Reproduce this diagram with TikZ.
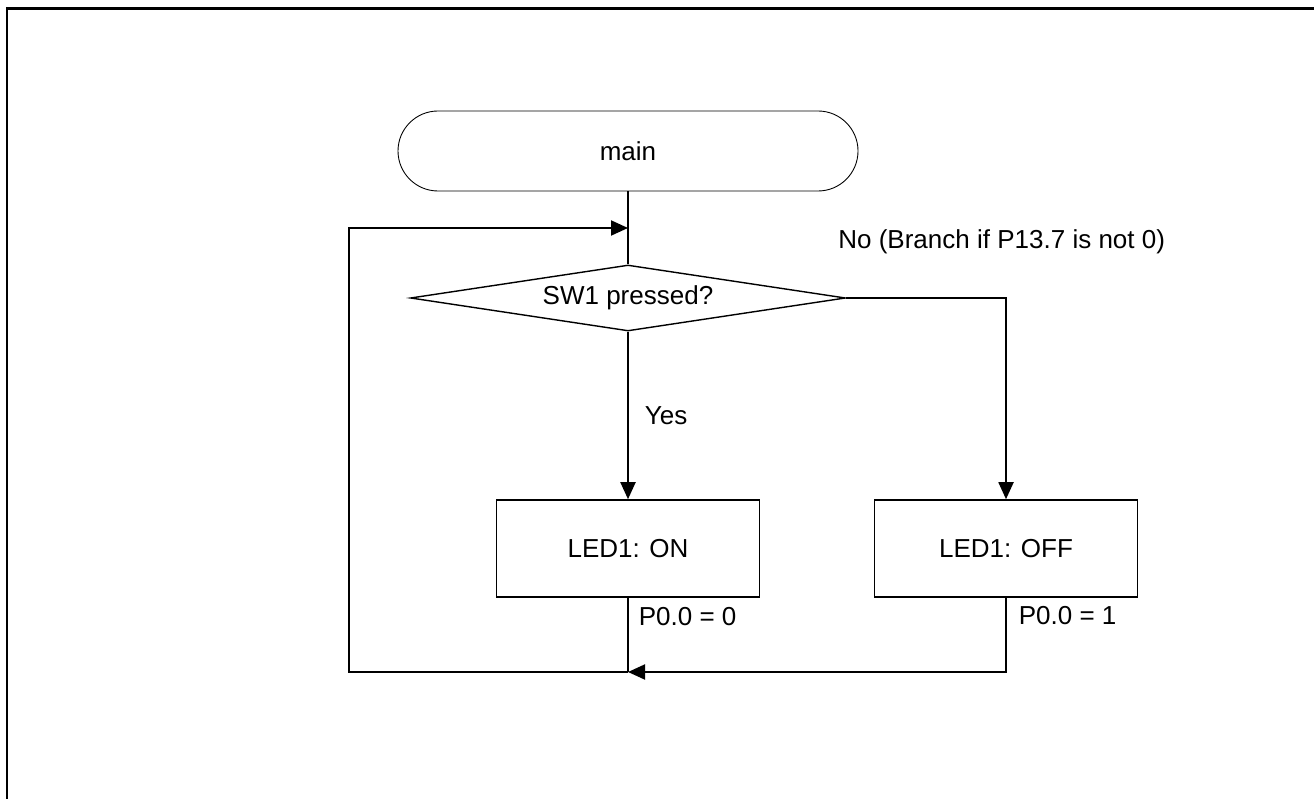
\documentclass[tikz,border=0pt]{standalone}
\usepackage{fontspec}
\setmainfont{Liberation Sans}
\usetikzlibrary{arrows.meta, positioning, shapes.geometric}

\begin{document}
\begin{tikzpicture}[every node/.style={font=\fontsize{14.8}{17}\selectfont},
    line/.style={line width=1.1pt},
    arrow/.style={line width=1.1pt, -{Triangle[length=0.34cm, width=0.3cm]}},
    terminal/.style={draw, line width=0.5pt, rectangle, rounded corners=0.8cm, minimum width=9.2cm, minimum height=1.6cm},
    decision/.style={draw, line width=0.8pt, diamond, shape aspect=6.6, inner sep=0pt, minimum width=8.7cm, minimum height=1.32cm},
    process/.style={draw, line width=0.9pt, rectangle, minimum width=5.26cm, minimum height=1.94cm}]
        \useasboundingbox (0, 0) rectangle (26.28, 15.96);
        \draw[line width=1.7pt] (0.14, -0.5) -- (0.14, 15.78) -- (26.8, 15.78);
        \node[terminal] (main) at (12.56, 12.94) {main};
        \node[decision] (sw1) at (12.56, 10.0) {SW1 pressed?};
        \node[process] (ledon) at (12.56, 4.99) {LED1: ON};
        \node[process] (ledoff) at (20.12, 4.99) {LED1: OFF};
        \node[anchor=west, inner sep=0pt] (nolabel) at (16.76, 11.12) {No (Branch if P13.7 is not 0)};
        \coordinate (join) at (12.56, 2.52);
        \coordinate (entry) at (12.56, 11.4);
        \draw[line] (main) -- (sw1);
        \draw[arrow] (sw1) -- node[right=0.2cm] (yes) {Yes} (ledon);
        \draw[arrow] (sw1.east) -| (ledoff);
        \draw[line] (ledon) -- node[pos=0.25, anchor=west, xshift=0.08cm] (pon) {P0.0 = 0} (join);
        \draw[arrow] (ledoff) |- node[pos=0.12, anchor=west, xshift=0.12cm] (poff) {P0.0 = 1} (join);
        \draw[arrow] (join) -- (6.98, 2.52) -- (6.98, 11.4) -- (entry);
    \end{tikzpicture}
\end{document}
